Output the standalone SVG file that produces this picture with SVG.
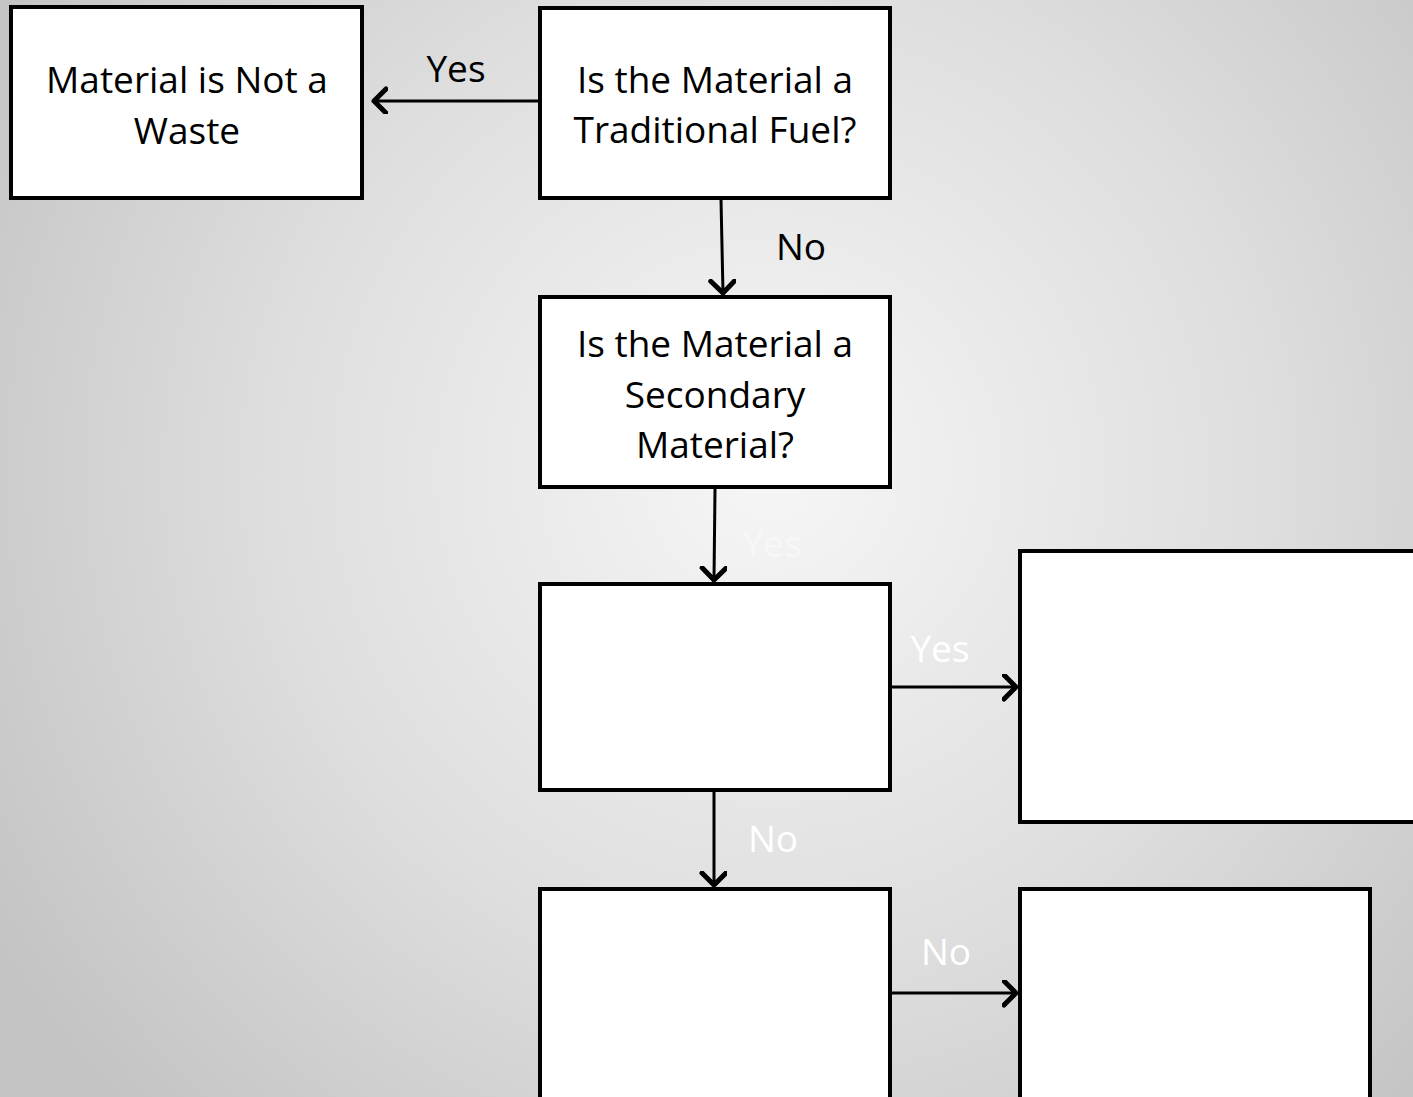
<svg xmlns="http://www.w3.org/2000/svg" width="1413" height="1097" viewBox="0 0 1413 1097">
  <defs>
    <radialGradient id="bg" cx="770" cy="470" r="900" gradientUnits="userSpaceOnUse">
      <stop offset="0" stop-color="#f6f6f6"/>
      <stop offset="0.55" stop-color="#dedede"/>
      <stop offset="1" stop-color="#c4c4c4"/>
    </radialGradient>
    <marker id="head" markerUnits="userSpaceOnUse" markerWidth="30" markerHeight="30" refX="14" refY="13" orient="auto" viewBox="0 0 30 30">
      <path d="M2,1 L14,13 L2,25" fill="none" stroke="#000" stroke-width="5" stroke-linecap="round" stroke-linejoin="round"/>
    </marker>
    <style>
      .box { fill: #fff; stroke: #000; stroke-width: 4; }
      .lbl { font-family: "Open Sans", "Liberation Sans", sans-serif; font-size: 37px; fill: #000; text-anchor: middle; }
      .ghost { font-family: "Open Sans", "Liberation Sans", sans-serif; font-size: 37px; fill: #fff; text-anchor: middle; }
      .conn { fill: none; stroke: #000; stroke-width: 3; marker-end: url(#head); }
    </style>
  </defs>

  <rect x="0" y="0" width="1413" height="1097" fill="url(#bg)"/>

  <!-- connectors -->
  <g id="connectors">
    <line class="conn" x1="546" y1="101" x2="374" y2="101"/>
    <line class="conn" x1="721" y1="199" x2="723" y2="293"/>
    <line class="conn" x1="715" y1="489" x2="714" y2="580"/>
    <line class="conn" x1="891" y1="687" x2="1016" y2="687"/>
    <line class="conn" x1="714" y1="791" x2="714" y2="885"/>
    <line class="conn" x1="891" y1="993" x2="1016" y2="993"/>
    <text class="lbl" x="456" y="82">Yes</text>
    <text class="lbl" x="801" y="260">No</text>
    <text class="ghost" x="772" y="557" opacity="0.4">Yes</text>
    <text class="ghost" x="940" y="662">Yes</text>
    <text class="ghost" x="773" y="852">No</text>
    <text class="ghost" x="946" y="965">No</text>
  </g>

  <g id="not-waste">
    <rect class="box" x="11" y="7" width="351" height="191"/>
    <text class="lbl" x="187" y="93">Material is Not a</text>
    <text class="lbl" x="187" y="144">Waste</text>
  </g>

  <g id="traditional-fuel">
    <rect class="box" x="540" y="8" width="350" height="190"/>
    <text class="lbl" x="715" y="93">Is the Material a</text>
    <text class="lbl" x="715" y="143">Traditional Fuel?</text>
  </g>

  <g id="secondary-material">
    <rect class="box" x="540" y="297" width="350" height="190"/>
    <text class="lbl" x="715" y="357">Is the Material a</text>
    <text class="lbl" x="715" y="408">Secondary</text>
    <text class="lbl" x="715" y="458">Material?</text>
  </g>

  <g id="decision-3">
    <rect class="box" x="540" y="584" width="350" height="206"/>
  </g>

  <g id="outcome-yes">
    <rect class="box" x="1020" y="551" width="400" height="271"/>
  </g>

  <g id="decision-4">
    <rect class="box" x="540" y="889" width="350" height="220"/>
  </g>

  <g id="outcome-no">
    <rect class="box" x="1020" y="889" width="350" height="220"/>
  </g>
</svg>
